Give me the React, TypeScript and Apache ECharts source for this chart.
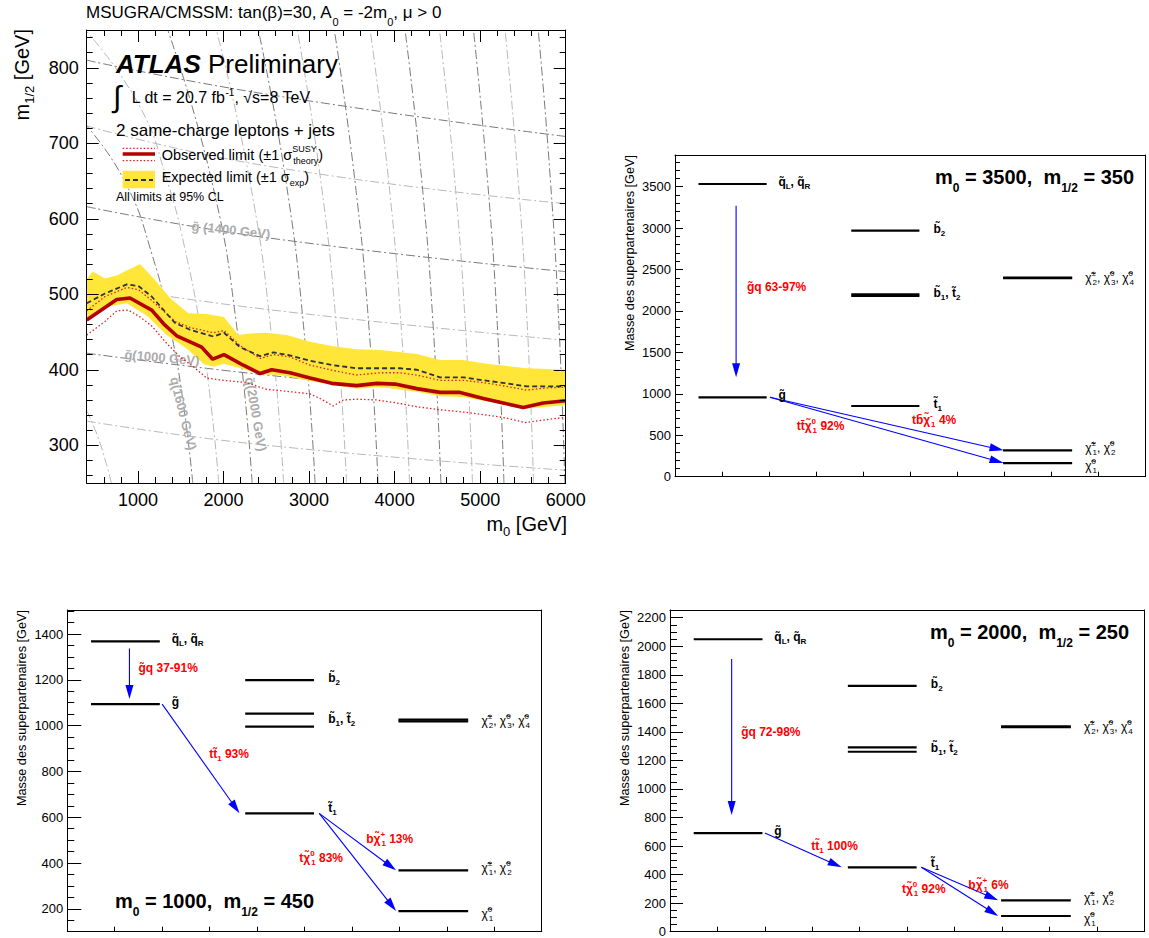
import React, { useEffect, useRef } from 'react';
import * as echarts from 'echarts';

const FONT = '"Liberation Sans", Arial, Helvetica, sans-serif';

// ================= Top-left: exclusion limits (m0, m1/2) =================
const OBS_M0 = [400, 751, 906, 1160, 1315, 1452, 1569, 1744, 1873, 2005, 2231, 2426, 2563, 2777, 3011, 3264, 3556, 3790, 4004, 4258, 4530, 4764, 5037, 5270, 5504, 5737, 6000];
const OBS = [466, 493, 495, 479, 459, 445, 439, 430, 414, 420, 406, 395, 400, 396, 389, 382, 379, 382, 381, 375, 370, 370, 362, 356, 350, 356, 359];

const EXP_M0 = [400, 614, 868, 1003, 1160, 1432, 1608, 1881, 2005, 2192, 2426, 2582, 2777, 3011, 3283, 3556, 3829, 4062, 4258, 4530, 4803, 5037, 5310, 5543, 5777, 6000];
const EXP = [488, 501, 513, 511, 497, 462, 453, 444, 449, 430, 418, 423, 419, 412, 406, 402, 402, 402, 400, 390, 390, 386, 382, 378, 378, 378];

const OBS_UP_M0 = [400, 614, 868, 1003, 1160, 1432, 1608, 1881, 2005, 2192, 2426, 2582, 2777, 3011, 3283, 3556, 3829, 4062, 4258, 4530, 4803, 5037, 5310, 5543, 5777, 6000];
const OBS_UP = [478, 497, 509, 506, 492, 464, 456, 449, 452, 432, 415, 420, 417, 406, 399, 393, 396, 396, 393, 386, 386, 383, 378, 373, 376, 377];

const OBS_DN_M0 = [400, 614, 751, 887, 1023, 1160, 1335, 1491, 1647, 1803, 1998, 2270, 2504, 2777, 3011, 3128, 3283, 3400, 3556, 3790, 4024, 4258, 4530, 4803, 5076, 5310, 5524, 5777, 6000];
const OBS_DN = [446, 464, 478, 479, 470, 458, 435, 417, 404, 389, 386, 383, 374, 371, 368, 362, 352, 360, 361, 360, 356, 351, 347, 344, 340, 336, 330, 334, 337];

const BAND_UP_M0 = [400, 470, 614, 751, 1023, 1199, 1374, 1588, 1803, 2005, 2172, 2309, 2485, 2738, 3011, 3283, 3556, 3829, 4258, 4530, 4803, 5076, 5543, 6000];
const BAND_UP = [520, 530, 521, 525, 540, 519, 495, 475, 474, 470, 446, 448, 449, 446, 437, 431, 427, 426, 421, 413, 413, 408, 402, 400];
const BAND_LO_M0 = [400, 614, 868, 1101, 1335, 1569, 1763, 1881, 2005, 2231, 2426, 2660, 3011, 3283, 3556, 3829, 4258, 4530, 4803, 5037, 5310, 5504, 5777, 6000];
const BAND_LO = [465, 483, 488, 472, 446, 428, 408, 404, 408, 401, 394, 393, 385, 380, 375, 377, 371, 365, 364, 359, 353, 348, 351, 353];

// iso-mass contours (background)
const GLUINO_LINES = [
  [[400, 332], [2500, 300], [6000, 267]],
  [[400, 422], [2500, 393], [6000, 355]],
  [[400, 514], [2500, 480], [6000, 439]],
  [[400, 616], [2500, 575], [6000, 530]],
  [[400, 723], [2500, 670], [6000, 620]],
  [[400, 810], [2500, 765], [6000, 709]],
];
const SQUARK_LINES = [
  [[688, 250], [550, 305], [400, 346]],
  [[1640, 250], [1536, 350], [1386, 450], [1171, 550], [843, 650], [400, 723]],
  [[1944, 250], [1857, 350], [1735, 450], [1568, 550], [1341, 650], [1014, 750], [400, 848]],
  [[2334, 250], [2163, 450], [1862, 650], [1348, 850]],
  [[2702, 250], [2556, 450], [2307, 650], [1916, 850]],
  [[3070, 250], [2942, 450], [2729, 650], [2407, 850]],
  [[3438, 250], [3324, 450], [3137, 650], [2862, 850]],
  [[3806, 250], [3704, 450], [3536, 650], [3295, 850]],
  [[4174, 250], [4081, 450], [3930, 650], [3714, 850]],
  [[4541, 250], [4455, 450], [4318, 650], [4122, 850]],
  [[4910, 250], [4831, 450], [4704, 650], [4525, 850]],
  [[5278, 250], [5205, 450], [5087, 650], [4922, 850]],
  [[5624, 250], [5555, 450], [5445, 650], [5291, 850]],
  [[5990, 250], [5925, 450], [5822, 650], [5679, 850]],
];
const CONTOUR_TEXT = ['{g|g\u0303 (1400 GeV)}', '{g|g\u0303(1000 GeV)}', '{g|q\u0303(1600 GeV)}', '{g|q\u0303(2000 GeV)}'];
const CONTOUR_POS = [[2087, 585], [1280, 416], [1530, 342], [2379, 341]];
const CONTOUR_ROT = [-6, -5, -76, -80];

// ================= Mass spectra =================
const COL_SPAN = [[0.5, 1.95], [3.75, 5.2], [6.98, 8.45]];
const LABEL_X = [2.2, 2.2, 5.5, 5.5, 5.5, 8.73, 8.73, 8.73];
const PARTICLE_TEXT = [
  '{n|q\u0303}{s|L}{n|, q\u0303}{s|R}',
  '{n|g\u0303}',
  '{n|b\u0303}{s|2}',
  '{n|b\u0303}{s|1}{n|, t\u0303}{s|2}',
  '{n|t\u0303}{s|1}',
  '{c|\u03c7\u0303}{cp|\u00b1}{cs|2}{c|, \u03c7\u0303}{cp|0}{cs|3}{c|, \u03c7\u0303}{cp|0}{cs|4}',
  '{c|\u03c7\u0303}{cp|\u00b1}{cs|1}{c|, \u03c7\u0303}{cp|0}{cs|2}',
  '{c|\u03c7\u0303}{cp|0}{cs|1}',
];
const LABEL_DY = [-2, -2, -2, -2, -2, 0, -2.5, 2.5];

// top-right: m0 = 3500, m1/2 = 350
const TR_LEVEL_COL = [0, 0, 1, 1, 1, 1, 2, 2, 2, 2];
const TR_LEVEL_MASS = [3532, 958, 2969, 2201, 2181, 853, 2404, 2397, 318, 165];
const TR_LABEL_MASS = [3532, 958, 2969, 2191, 853, 2401, 318, 165];
const TR_ARROWS = [[1.3, 3271, 1.3, 1200], [2.02, 958, 6.99, 318], [2.02, 958, 6.99, 165]];
const TR_DECAY_TEXT = [
  '{r|g\u0303q 63-97%}',
  '{r|tt\u0304\u03c7\u0303}{rp|0}{rs|1}{r| 92%}',
  '{r|tb\u0304\u03c7\u0303}{rp|-}{rs|1}{r| 4%}',
];
const TR_DECAY_POS = [[1.53, 2293], [2.59, 610], [5.04, 684]];

// bottom-left: m0 = 1000, m1/2 = 450
const BL_LEVEL_COL = [0, 0, 1, 1, 1, 1, 2, 2, 2, 2];
const BL_LEVEL_MASS = [1368, 1094, 1199, 1052, 996, 617, 1026, 1019, 368, 190];
const BL_LABEL_MASS = [1368, 1094, 1199, 1020, 630, 1022, 368, 190];
const BL_ARROWS = [[1.31, 1337, 1.31, 1116], [2.0, 1094, 3.63, 617], [5.31, 617, 6.93, 368], [5.31, 617, 6.93, 190]];
const BL_DECAY_TEXT = [
  '{r|g\u0303q 37-91%}',
  '{r|tt\u0303}{rs|1}{r| 93%}',
  '{r|b\u03c7\u0303}{rp|+}{rs|1}{r| 13%}',
  '{r|t\u03c7\u0303}{rp|0}{rs|1}{r| 83%}',
];
const BL_DECAY_POS = [[1.5, 1253], [2.99, 875], [6.3, 507], [4.89, 420]];

// bottom-right: m0 = 2000, m1/2 = 250
const BR_LEVEL_COL = [0, 0, 1, 1, 1, 1, 2, 2, 2, 2];
const BR_LEVEL_MASS = [2049, 691, 1723, 1292, 1261, 451, 1439, 1433, 220, 110];
const BR_LABEL_MASS = [2049, 691, 1723, 1276, 465, 1436, 220, 110];
const BR_ARROWS = [[1.3, 1911, 1.3, 818], [2.0, 691, 3.62, 451], [5.3, 451, 6.92, 220], [5.3, 451, 6.92, 110]];
const BR_DECAY_TEXT = [
  '{r|g\u0303q 72-98%}',
  '{r|tt\u0303}{rs|1}{r| 100%}',
  '{r|b\u03c7\u0303}{rp|+}{rs|1}{r| 6%}',
  '{r|t\u03c7\u0303}{rp|0}{rs|1}{r| 92%}',
];
const BR_DECAY_POS = [[1.5, 1399], [2.98, 603], [6.29, 325], [4.89, 301]];

const RICH: any = {
  n: { fontFamily: FONT, fontSize: 12, fontWeight: 'bold', fill: '#000', lineHeight: 17 },
  s: { fontFamily: FONT, fontSize: 8, fontWeight: 'bold', fill: '#000', lineHeight: 7, verticalAlign: 'bottom' },
  c: { fontFamily: FONT, fontSize: 12, fill: '#000', lineHeight: 17 },
  cp: { fontFamily: FONT, fontSize: 8, fill: '#000', lineHeight: 7, verticalAlign: 'top', width: 1 },
  cs: { fontFamily: FONT, fontSize: 8, fill: '#000', lineHeight: 7, verticalAlign: 'bottom' },
  r: { fontFamily: FONT, fontSize: 12, fontWeight: 'bold', fill: '#ff0000', lineHeight: 17 },
  rp: { fontFamily: FONT, fontSize: 8, fontWeight: 'bold', fill: '#ff0000', lineHeight: 7, verticalAlign: 'top', width: 1 },
  rs: { fontFamily: FONT, fontSize: 8, fontWeight: 'bold', fill: '#ff0000', lineHeight: 7, verticalAlign: 'bottom' },
  g: { fontFamily: FONT, fontSize: 13, fontWeight: 'bold', fill: '#acacac', lineHeight: 16 },
};

const GRIDS = [
  { left: 86.7, top: 30, width: 479, height: 453 },
  { left: 675, top: 155, width: 470, height: 321.7 },
  { left: 67.3, top: 610, width: 474.4, height: 321.7 },
  { left: 670, top: 610, width: 474.3, height: 321.7 },
];

const BLACK = '#000';
const fmt = (v: number) => String(v);

function axis(o: any) {
  return Object.assign(
    {
      type: 'value',
      z: 10,
      splitLine: { show: false },
      minorSplitLine: { show: false },
      axisLine: { show: true, onZero: false, lineStyle: { color: BLACK, width: 1 } },
      axisTick: { show: false },
      minorTick: { show: false },
      axisLabel: { show: false },
    },
    o
  );
}

function ticks(len: number, minorLen: number, split: number) {
  return {
    axisTick: { show: true, inside: true, length: len, lineStyle: { color: BLACK, width: 1 } },
    minorTick: minorLen > 0 ? { show: true, splitNumber: split, length: minorLen, lineStyle: { color: BLACK, width: 1 } } : { show: false },
  };
}

function labels(size: number, margin: number, extra: any) {
  return {
    axisLabel: Object.assign({ show: true, fontSize: size, fontFamily: FONT, color: BLACK, margin, formatter: fmt }, extra),
  };
}

function txt(x: number, y: number, text: string, rich: any, align: string, rotation?: number) {
  return {
    type: 'text',
    x,
    y,
    rotation: rotation || 0,
    silent: true,
    z: 100,
    style: {
      text,
      rich,
      align,
      textAlign: align,
      verticalAlign: 'middle',
      textVerticalAlign: 'middle',
    },
  };
}

function arrowItem(params: any, api: any) {
  const a = api.coord([api.value(0), api.value(1)]);
  const b = api.coord([api.value(2), api.value(3)]);
  const dx = b[0] - a[0];
  const dy = b[1] - a[1];
  const len = Math.hypot(dx, dy);
  const ux = dx / len;
  const uy = dy / len;
  const hl = 14;
  const hw = 4;
  const bx = b[0] - ux * hl;
  const by = b[1] - uy * hl;
  return {
    type: 'group',
    children: [
      { type: 'line', shape: { x1: a[0], y1: a[1], x2: bx + ux * 2, y2: by + uy * 2 }, style: { stroke: '#0000ff', lineWidth: 1.1 } },
      {
        type: 'polygon',
        shape: { points: [[b[0], b[1]], [bx - uy * hw, by + ux * hw], [bx + uy * hw, by - ux * hw]] },
        style: { fill: '#0000ff' },
      },
    ],
  };
}

function spectrumSeries(ax: number, cols: number[], masses: number[], labelMass: number[], arrows: number[][], decayText: string[], decayPos: number[][]) {
  const base = { type: 'custom', xAxisIndex: ax, yAxisIndex: ax, silent: true, z: 5 };
  return [
    {
      ...base,
      data: cols.map((c, i) => [c, masses[i]]),
      renderItem: (p: any, api: any) => {
        const c = api.value(0);
        const m = api.value(1);
        const span = COL_SPAN[c];
        const a = api.coord([span[0], m]);
        const b = api.coord([span[1], m]);
        return { type: 'line', shape: { x1: a[0], y1: a[1], x2: b[0], y2: b[1] }, style: { stroke: BLACK, lineWidth: 2.2 } };
      },
    },
    { ...base, data: arrows, renderItem: arrowItem },
    {
      ...base,
      data: labelMass.map((m, i) => [LABEL_X[i], m]),
      renderItem: (p: any, api: any) => {
        const pt = api.coord([api.value(0), api.value(1)]);
        return {
          type: 'text',
          x: pt[0],
          y: pt[1] + LABEL_DY[p.dataIndex],
          style: { text: PARTICLE_TEXT[p.dataIndex], rich: RICH, align: 'left', textAlign: 'left', verticalAlign: 'middle', textVerticalAlign: 'middle' },
        };
      },
    },
    {
      ...base,
      data: decayPos,
      renderItem: (p: any, api: any) => {
        const pt = api.coord([api.value(0), api.value(1)]);
        return {
          type: 'text',
          x: pt[0],
          y: pt[1],
          style: { text: decayText[p.dataIndex], rich: RICH, align: 'left', textAlign: 'left', verticalAlign: 'middle', textVerticalAlign: 'middle' },
        };
      },
    },
  ];
}

function zip(xs: number[], ys: number[]) {
  return xs.map((x, i) => [x, ys[i]]);
}

function buildOption(): any {
  const tlLine = (data: any, color: string, width: number, type: any, z: number, smooth = false) => ({
    type: 'line',
    xAxisIndex: 0,
    yAxisIndex: 0,
    data,
    symbol: 'none',
    silent: true,
    smooth,
    z,
    lineStyle: { color, width, type },
  });

  const contourSeries: any[] = [];
  GLUINO_LINES.forEach((pts, i) => contourSeries.push(tlLine(pts, i % 2 ? '#7a7a7a' : '#b8b8b8', 1, [9, 3, 2, 3], 1, true)));
  SQUARK_LINES.forEach((pts, i) => contourSeries.push(tlLine(pts, i % 2 ? '#7a7a7a' : '#b8b8b8', 1, [9, 3, 2, 3], 1, true)));

  const bandSeries = {
    type: 'custom',
    xAxisIndex: 0,
    yAxisIndex: 0,
    silent: true,
    z: 2,
    data: [[BAND_UP_M0[0], BAND_UP[0]]],
    renderItem: (p: any, api: any) => {
      const pts: number[][] = [];
      BAND_UP_M0.forEach((x, i) => pts.push(api.coord([x, BAND_UP[i]])));
      for (let i = BAND_LO_M0.length - 1; i >= 0; i--) pts.push(api.coord([BAND_LO_M0[i], BAND_LO[i]]));
      return { type: 'polygon', shape: { points: pts }, style: { fill: '#ffe638' } };
    },
  };

  const contourLabels = {
    type: 'custom',
    xAxisIndex: 0,
    yAxisIndex: 0,
    silent: true,
    z: 3,
    data: CONTOUR_POS,
    renderItem: (p: any, api: any) => {
      const pt = api.coord([api.value(0), api.value(1)]);
      return {
        type: 'text',
        x: pt[0],
        y: pt[1],
        rotation: (CONTOUR_ROT[p.dataIndex] * Math.PI) / 180,
        style: { text: CONTOUR_TEXT[p.dataIndex], rich: RICH, align: 'center', textAlign: 'center', verticalAlign: 'middle', textVerticalAlign: 'middle' },
      };
    },
  };

  const xAxis = [
    axis({ gridIndex: 0, min: 400, max: 6000, position: 'bottom', ...ticks(12, 6, 5), ...labels(18, 8, { showMinLabel: false }) }),
    axis({ gridIndex: 0, min: 400, max: 6000, position: 'top', ...ticks(12, 6, 5) }),
    axis({ gridIndex: 1, min: 0, max: 10, interval: 1, position: 'bottom', ...ticks(5, 0, 1) }),
    axis({ gridIndex: 1, min: 0, max: 10, interval: 1, position: 'top' }),
    axis({ gridIndex: 2, min: 0, max: 10, interval: 1, position: 'bottom', ...ticks(5, 0, 1) }),
    axis({ gridIndex: 2, min: 0, max: 10, interval: 1, position: 'top' }),
    axis({ gridIndex: 3, min: 0, max: 10, interval: 1, position: 'bottom', ...ticks(5, 0, 1) }),
    axis({ gridIndex: 3, min: 0, max: 10, interval: 1, position: 'top' }),
  ];
  const yAxis = [
    axis({ gridIndex: 0, min: 250, max: 850, position: 'left', ...ticks(12, 6, 5), ...labels(18, 8, { showMinLabel: false, showMaxLabel: false }) }),
    axis({ gridIndex: 0, min: 250, max: 850, position: 'right', ...ticks(12, 6, 5) }),
    axis({ gridIndex: 1, min: 0, max: 3882, interval: 500, position: 'left', ...ticks(8, 5, 5), ...labels(13, 4, { showMaxLabel: false }) }),
    axis({ gridIndex: 1, min: 0, max: 3882, interval: 500, position: 'right' }),
    axis({ gridIndex: 2, min: 100, max: 1505, splitNumber: 7, position: 'left', ...ticks(14, 7, 4), ...labels(13, 4, { showMinLabel: false, showMaxLabel: false }) }),
    axis({ gridIndex: 2, min: 100, max: 1505, splitNumber: 7, position: 'right' }),
    axis({ gridIndex: 3, min: 0, max: 2254, interval: 200, position: 'left', ...ticks(13, 7, 4), ...labels(13, 4, { showMaxLabel: false }) }),
    axis({ gridIndex: 3, min: 0, max: 2254, interval: 200, position: 'right' }),
  ];

  const series: any[] = [
    ...contourSeries,
    bandSeries,
    contourLabels,
    tlLine(zip(OBS_DN_M0, OBS_DN), '#e02020', 1.3, [1.5, 2.2], 4),
    tlLine(zip(OBS_UP_M0, OBS_UP), '#e02020', 1.3, [1.5, 2.2], 4),
    tlLine(zip(EXP_M0, EXP), '#303040', 1.8, [5, 3], 5),
    tlLine(zip(OBS_M0, OBS), '#b40000', 3.6, 'solid', 6),
    ...spectrumSeries(2, TR_LEVEL_COL, TR_LEVEL_MASS, TR_LABEL_MASS, TR_ARROWS, TR_DECAY_TEXT, TR_DECAY_POS),
    ...spectrumSeries(4, BL_LEVEL_COL, BL_LEVEL_MASS, BL_LABEL_MASS, BL_ARROWS, BL_DECAY_TEXT, BL_DECAY_POS),
    ...spectrumSeries(6, BR_LEVEL_COL, BR_LEVEL_MASS, BR_LABEL_MASS, BR_ARROWS, BR_DECAY_TEXT, BR_DECAY_POS),
  ];

  const T: any = {
    t: { fontFamily: FONT, fontSize: 17, fill: BLACK, lineHeight: 30 },
    ts: { fontFamily: FONT, fontSize: 11, fill: BLACK, lineHeight: 11, verticalAlign: 'bottom' },
    ax: { fontFamily: FONT, fontSize: 20, fill: BLACK, lineHeight: 27 },
    axs: { fontFamily: FONT, fontSize: 13, fill: BLACK, lineHeight: 13, verticalAlign: 'bottom' },
    atlas: { fontFamily: FONT, fontSize: 26, fontWeight: 'bold', fontStyle: 'italic', fill: BLACK, lineHeight: 30 },
    prel: { fontFamily: FONT, fontSize: 26, fill: BLACK, lineHeight: 30 },
    int: { fontFamily: FONT, fontSize: 30, fill: BLACK, lineHeight: 34 },
    lum: { fontFamily: FONT, fontSize: 16, fill: BLACK, lineHeight: 20 },
    lums: { fontFamily: FONT, fontSize: 10, fill: BLACK, lineHeight: 10, verticalAlign: 'top' },
    an: { fontFamily: FONT, fontSize: 17, fill: BLACK, lineHeight: 22 },
    lg: { fontFamily: FONT, fontSize: 14.5, fill: BLACK, lineHeight: 21 },
    lgp: { fontFamily: FONT, fontSize: 9, fill: BLACK, lineHeight: 9, verticalAlign: 'top', width: 1 },
    lgs: { fontFamily: FONT, fontSize: 9, fill: BLACK, lineHeight: 9, verticalAlign: 'bottom' },
    cl: { fontFamily: FONT, fontSize: 12.5, fill: BLACK, lineHeight: 16 },
    yt: { fontFamily: FONT, fontSize: 12.7, fill: BLACK, lineHeight: 16 },
    mt: { fontFamily: FONT, fontSize: 20, fontWeight: 'bold', fill: BLACK, lineHeight: 34 },
    mts: { fontFamily: FONT, fontSize: 12, fontWeight: 'bold', fill: BLACK, lineHeight: 12, verticalAlign: 'bottom' },
  };

  const graphics: any[] = [
    txt(86, 12.5, '{t|MSUGRA/CMSSM: tan(\u03b2)=30, A}{ts|0}{t| = -2m}{ts|0}{t|, \u03bc > 0}', T, 'left'),
    txt(22, 29, '{ax|m}{axs|1/2}{ax| [GeV]}', T, 'right', Math.PI / 2),
    txt(567, 524, '{ax|m}{axs|0}{ax| [GeV]}', T, 'right'),
    txt(116, 63.5, '{atlas|ATLAS}{prel| Preliminary}', T, 'left'),
    txt(113, 96.5, '{int|\u222b}', T, 'left'),
    txt(131.7, 97, '{lum|L dt = 20.7 fb}{lums|-1}{lum|, \u221as=8 TeV}', T, 'left'),
    txt(116, 130, '{an|2 same-charge leptons + jets}', T, 'left'),
    txt(161.7, 154.5, '{lg|Observed limit (\u00b11 \u03c3}{lgp|SUSY}{lgs|theory}{lg|)}', T, 'left'),
    txt(161.7, 176.5, '{lg|Expected limit (\u00b11 \u03c3}{lgs|exp}{lg|)}', T, 'left'),
    txt(116, 197.2, '{cl|All limits at 95% CL}', T, 'left'),
    // legend symbols
    { type: 'rect', shape: { x: 122.7, y: 170.7, width: 32.3, height: 17.6 }, style: { fill: '#ffe638' }, silent: true, z: 99 },
    { type: 'line', shape: { x1: 125, y1: 180, x2: 153, y2: 180 }, style: { stroke: '#303040', lineWidth: 1.8, lineDash: [5, 3] }, silent: true, z: 100 },
    { type: 'line', shape: { x1: 122.7, y1: 154, x2: 155, y2: 154 }, style: { stroke: '#b40000', lineWidth: 3.5 }, silent: true, z: 100 },
    { type: 'line', shape: { x1: 122.7, y1: 148.3, x2: 155, y2: 148.3 }, style: { stroke: '#e02020', lineWidth: 1.2, lineDash: [1.5, 2] }, silent: true, z: 100 },
    { type: 'line', shape: { x1: 122.7, y1: 160.7, x2: 155, y2: 160.7 }, style: { stroke: '#e02020', lineWidth: 1.2, lineDash: [1.5, 2] }, silent: true, z: 100 },
    // spectrum axis titles
    txt(630, 155, '{yt|Masse des superpartenaires [GeV]}', T, 'right', Math.PI / 2),
    txt(21.7, 610, '{yt|Masse des superpartenaires [GeV]}', T, 'right', Math.PI / 2),
    txt(625, 610, '{yt|Masse des superpartenaires [GeV]}', T, 'right', Math.PI / 2),
    // spectrum titles
    txt(935, 177, '{mt|m}{mts|0}{mt| = 3500,  m}{mts|1/2}{mt| = 350}', T, 'left'),
    txt(115, 901, '{mt|m}{mts|0}{mt| = 1000,  m}{mts|1/2}{mt| = 450}', T, 'left'),
    txt(930, 632, '{mt|m}{mts|0}{mt| = 2000,  m}{mts|1/2}{mt| = 250}', T, 'left'),
  ];

  return {
    animation: false,
    backgroundColor: '#fff',
    grid: GRIDS.map((g) => ({ ...g, containLabel: false, outerBoundsMode: 'none', show: false })),
    xAxis,
    yAxis,
    series,
    graphic: { elements: graphics },
  };
}

export default function App() {
  const ref = useRef<HTMLDivElement>(null);
  useEffect(() => {
    const chart = echarts.init(ref.current as HTMLDivElement, null, { renderer: 'svg' });
    chart.setOption(buildOption());
    return () => chart.dispose();
  }, []);
  return <div ref={ref} style={{ position: 'fixed', left: 0, top: 0, width: 1149, height: 938, background: '#fff' }} />;
}
